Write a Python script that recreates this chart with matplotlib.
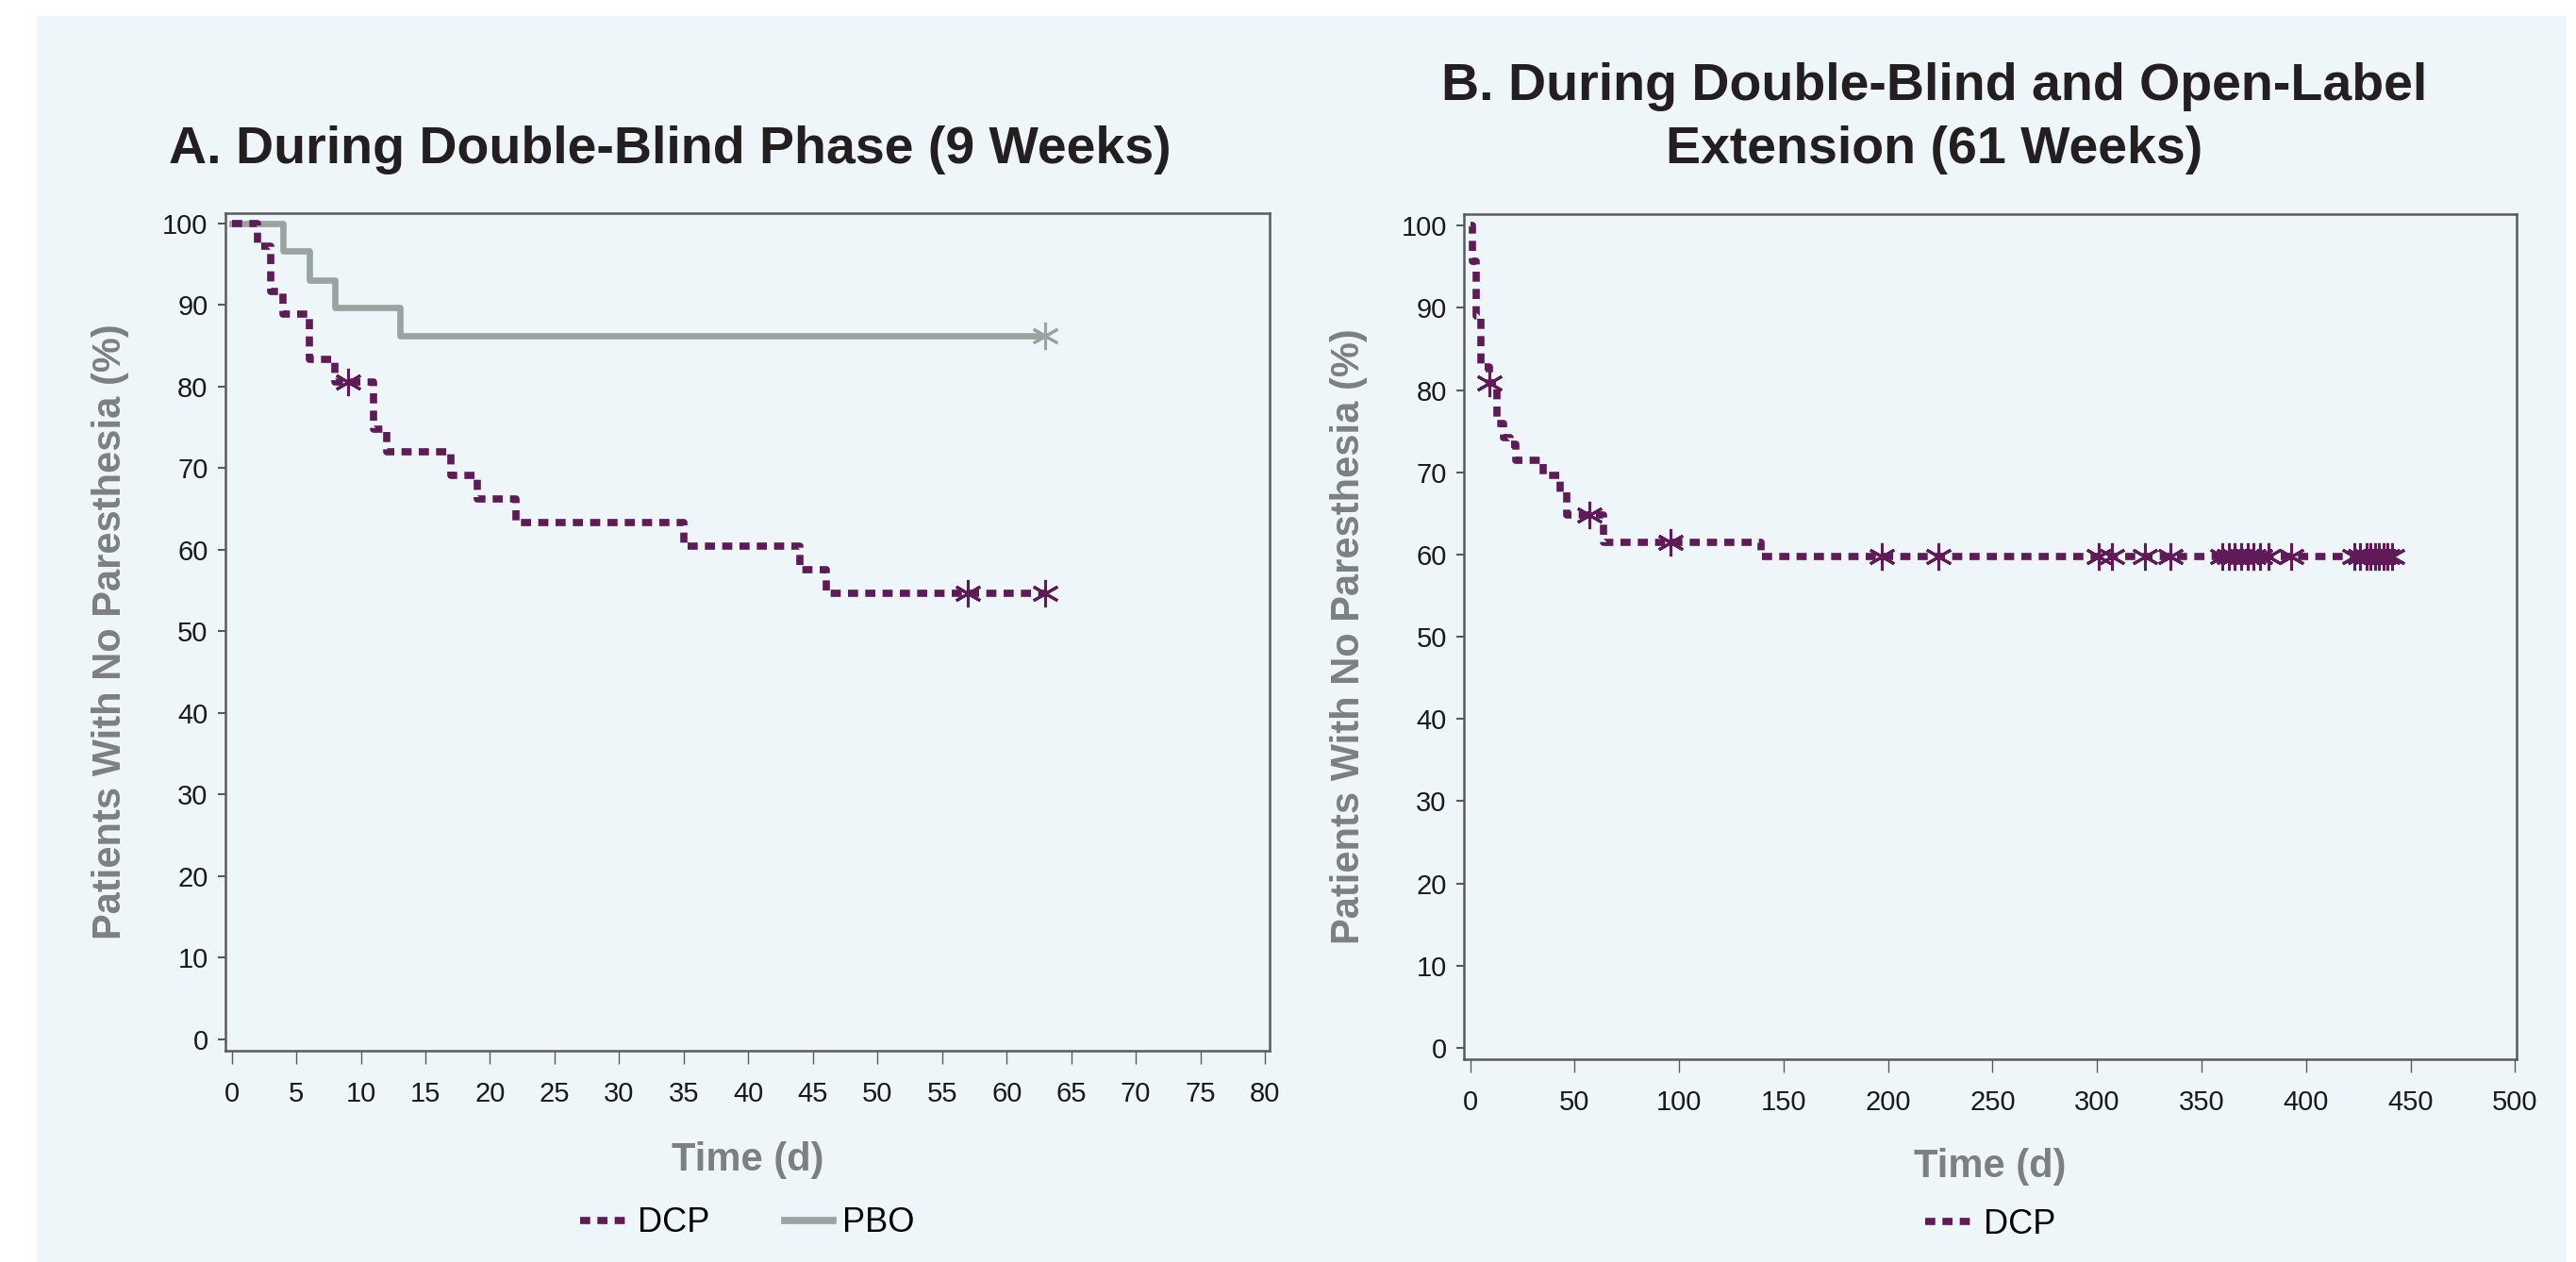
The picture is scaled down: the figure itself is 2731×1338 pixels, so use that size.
import numpy as np
import matplotlib
matplotlib.use("Agg")
import matplotlib.pyplot as plt
from matplotlib.lines import Line2D
from matplotlib.patches import Rectangle

# panel A: double-blind phase
dcp_a_times = [0, 2, 3, 4, 6, 8, 11, 12, 17, 19, 22, 35, 44, 46]
dcp_a_surv = [100, 97.2, 91.7, 88.9, 83.3, 80.6, 74.8, 72.0, 69.1, 66.2, 63.3, 60.4, 57.6, 54.7]
dcp_a_end = 63
dcp_a_censor = [9, 57, 63]

pbo_a_times = [0, 4, 6, 8, 13]
pbo_a_surv = [100, 96.6, 93.1, 89.7, 86.2]
pbo_a_end = 63
pbo_a_censor = [63]

# panel B: double-blind + open-label extension
dcp_b_times = [0, 1, 3, 5, 9, 13, 16, 19, 22, 35, 43, 46, 64, 139]
dcp_b_surv = [100, 95.7, 89.0, 82.8, 80.9, 76.0, 74.2, 73.4, 71.5, 69.6, 67.6, 64.8, 61.5, 59.8]
dcp_b_end = 441
dcp_b_censor = [9, 57, 96, 197, 224, 301, 307, 323, 335, 360, 363, 366, 369, 372,
                375, 378, 382, 393, 423, 426, 429, 431, 433, 435, 437, 439, 441]

xticks_a = list(range(0, 81, 5))
xticks_b = list(range(0, 501, 50))
yticks = list(range(0, 101, 10))

PURPLE = "#5f1a57"
GRAY = "#97a49f"
BG = "#eef6fa"
LABEL_GRAY = "#7d7f82"
FONT = "Liberation Sans"

W, H = 2731, 1338
fig = plt.figure(figsize=(W / 100, H / 100), dpi=100)
fig.patch.set_facecolor("white")
fig.patches.append(Rectangle((39 / W, 0), (2721 - 39) / W, 1 - 17 / H,
                             transform=fig.transFigure, facecolor=BG,
                             edgecolor="none", zorder=-10))


def box(l, t, r, b):
    return [l / W, 1 - b / H, (r - l) / W, (b - t) / H]


def surv_at(times, surv, t):
    i = np.searchsorted(times, t, side="right") - 1
    return surv[i]


def km(ax, times, surv, end, censor, color, **kw):
    x = list(times) + [end]
    y = list(surv) + [surv[-1]]
    ax.step(x, y, where="post", color=color, **kw)
    cy = [surv_at(times, surv, c) for c in censor]
    ax.plot(censor, cy, linestyle="none", marker=(6, 2, 0), markersize=21,
            markeredgewidth=2.2, color=color, zorder=4)


def style(ax, xticks, xlim, ylim):
    ax.set_facecolor(BG)
    ax.set_xlim(*xlim)
    ax.set_ylim(*ylim)
    ax.set_xticks(xticks)
    ax.set_yticks(yticks)
    for s in ax.spines.values():
        s.set_color("#5a5a5a")
        s.set_linewidth(1.8)
    ax.tick_params(axis="x", length=10, width=1, color="#5a5a5a", pad=13,
                   labelsize=21, labelcolor="#1a1a1a")
    ax.tick_params(axis="y", length=6, width=1.5, color="#5a5a5a", pad=7,
                   labelsize=21, labelcolor="#1a1a1a")
    for lab in ax.get_xticklabels() + ax.get_yticklabels():
        lab.set_fontfamily(FONT)


dash = (0, (1.4, 1.0))

# ---- panel A
axA = fig.add_axes(box(238.6, 225.7, 1346.3, 1114))
km(axA, pbo_a_times, pbo_a_surv, pbo_a_end, pbo_a_censor, GRAY, lw=4.8, zorder=2)
km(axA, dcp_a_times, dcp_a_surv, dcp_a_end, dcp_a_censor, PURPLE, lw=5.5,
   linestyle=dash, zorder=3)
style(axA, xticks_a, (-0.51, 80.38), (-1.4, 101.3))
axA.text((117 - 238.6) / 1107.7, 0.5, "Patients With No Paresthesia (%)",
         transform=axA.transAxes, rotation=90, ha="center", va="center",
         fontsize=30, fontweight="bold", color=LABEL_GRAY, family=FONT)
axA.text(0.5, (1114 - 1230) / 888.3, "Time (d)", transform=axA.transAxes,
         ha="center", va="center", fontsize=30, fontweight="bold",
         color=LABEL_GRAY, family=FONT)
handlesA = [Line2D([], [], color=PURPLE, lw=5.5, linestyle=dash),
            Line2D([], [], color=GRAY, lw=5.5)]
legA = axA.legend(handlesA, ["DCP", "PBO"], loc="center",
                  bbox_to_anchor=(0.5, (1114 - 1297) / 888.3), ncol=2,
                  frameon=False, handlelength=1.4, handletextpad=0.3,
                  columnspacing=2.2, prop={"family": FONT, "size": 26})

# ---- panel B
axB = fig.add_axes(box(1551.8, 226.7, 2668.3, 1122.7))
km(axB, dcp_b_times, dcp_b_surv, dcp_b_end, dcp_b_censor, PURPLE, lw=5.5,
   linestyle=dash, zorder=3)
style(axB, xticks_b, (-3.1, 500.9), (-1.35, 101.45))
axB.text((1430 - 1551.8) / 1116.5, 0.5, "Patients With No Paresthesia (%)",
         transform=axB.transAxes, rotation=90, ha="center", va="center",
         fontsize=30, fontweight="bold", color=LABEL_GRAY, family=FONT)
axB.text(0.5, (1122.7 - 1237) / 896, "Time (d)", transform=axB.transAxes,
         ha="center", va="center", fontsize=30, fontweight="bold",
         color=LABEL_GRAY, family=FONT)
handlesB = [Line2D([], [], color=PURPLE, lw=5.5, linestyle=dash)]
axB.legend(handlesB, ["DCP"], loc="center",
           bbox_to_anchor=(0.5, (1122.7 - 1298) / 896), frameon=False,
           handlelength=1.4, handletextpad=0.3, prop={"family": FONT, "size": 26})

# ---- titles
fig.text(710 / W, 1 - 173 / H, "A. During Double-Blind Phase (9 Weeks)",
         ha="center", va="baseline", fontsize=40, fontweight="bold",
         color="#231f20", family=FONT)
fig.text(2051 / W, 1 - 106 / H, "B. During Double-Blind and Open-Label",
         ha="center", va="baseline", fontsize=40, fontweight="bold",
         color="#231f20", family=FONT)
fig.text(2051 / W, 1 - 172.7 / H, "Extension (61 Weeks)",
         ha="center", va="baseline", fontsize=40, fontweight="bold",
         color="#231f20", family=FONT)

fig.savefig("out.png", dpi=100, facecolor=fig.get_facecolor())
